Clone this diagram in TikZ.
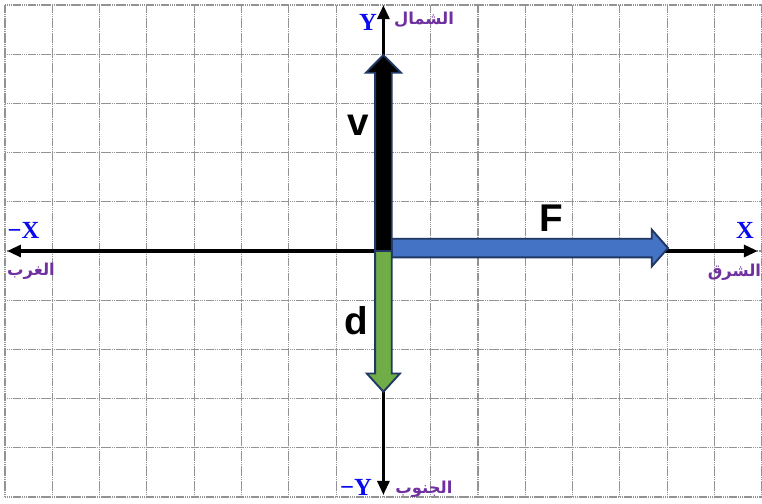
\documentclass[tikz,border=0pt]{standalone}
\usepackage{fontspec}
\setmainfont{Liberation Serif}
\setsansfont{Liberation Sans}
\newfontfamily\arabicfont[Script=Arabic]{DejaVu Sans}
\TeXXeTstate=1
\usepackage{xcolor}
\usetikzlibrary{arrows.meta,positioning}
\definecolor{axisblue}{RGB}{10,10,240}
\definecolor{dirpurple}{RGB}{112,48,160}
\definecolor{fblue}{RGB}{68,114,196}
\definecolor{dgreen}{RGB}{112,173,71}
\definecolor{vecline}{RGB}{31,56,100}
\tikzset{
  gridline/.style={draw=gray!85, line width=1pt, dash pattern=on 1.2pt off 0.4pt},
  axisarr/.style={line width=3.1pt, {Triangle[length=12pt,width=10pt]}-{Triangle[length=12pt,width=10pt]}},
  axislbl/.style={text=axisblue, font=\bfseries\fontsize{21}{21}\selectfont, inner sep=0pt},
  dirlbl/.style={text=dirpurple, font=\arabicfont\bfseries\fontsize{14}{14}\selectfont, inner sep=0pt},
  veclbl/.style={font=\sffamily\bfseries\fontsize{33}{33}\selectfont, inner sep=0pt},
  vecarr/.style={draw=vecline, line width=1.6pt, line join=miter}
}

\begin{document}
\begin{tikzpicture}[x=1.419cm, y=1.476cm]
\useasboundingbox[fill=white] (-8.106,-5.142) rectangle (8.004,5.102);
% grid
\foreach \x in {-8,...,8} \draw[gridline] (\x,-5) -- (\x,5);
\foreach \y in {-5,...,5} \draw[gridline] (-8,\y) -- (8,\y);
% axes
\coordinate (o) at (0,0);
\coordinate (west) at (-7.96,0);
\coordinate (east) at (7.92,0);
\coordinate (north) at (0,5.0);
\coordinate (south) at (0,-4.96);
\draw[axisarr] (west) -- (east);
\draw[axisarr] (south) -- (north);
% vectors
\filldraw[vecarr, fill=fblue] (0.176,-0.13) -- (5.672,-0.13) -- (5.672,-0.316) -- (6.017,0.06) -- (5.672,0.436) -- (5.672,0.25) -- (0.176,0.25) -- cycle;
\filldraw[vecarr, fill=dgreen] (-0.176,0) -- (-0.176,-2.49) -- (-0.35,-2.49) -- (0,-2.86) -- (0.35,-2.49) -- (0.176,-2.49) -- (0.176,0) -- cycle;
\filldraw[vecarr, fill=black] (-0.176,0) -- (-0.176,3.624) -- (-0.37,3.624) -- (0,3.984) -- (0.37,3.624) -- (0.176,3.624) -- (0.176,0) -- cycle;
\node[veclbl] (vlbl) at (-0.526,2.55) {v};
\node[veclbl] (flbl) at (3.54,0.66) {F};
\node[veclbl] (dlbl) at (-0.58,-1.41) {d};
% axis names
\node[axislbl] (ylbl) at (-0.326,4.65) {Y};
\node[axislbl] (mylbl) at (-0.58,-4.80) {−Y};
\node[axislbl] (xlbl) at (7.645,0.427) {X};
\node[axislbl] (mxlbl) at (-7.61,0.427) {−X};
\node[dirlbl] (nlbl) at (0.858,4.695) {\beginR الشمال\endR};
\node[dirlbl] (slbl) at (0.858,-4.84) {\beginR الجنوب\endR};
\node[dirlbl] (wlbl) at (-7.45,-0.41) {\beginR الغرب\endR};
\node[dirlbl, anchor=east] (elbl) at (7.99,-0.43) {\beginR الشرق\endR};
\end{tikzpicture}
\end{document}
